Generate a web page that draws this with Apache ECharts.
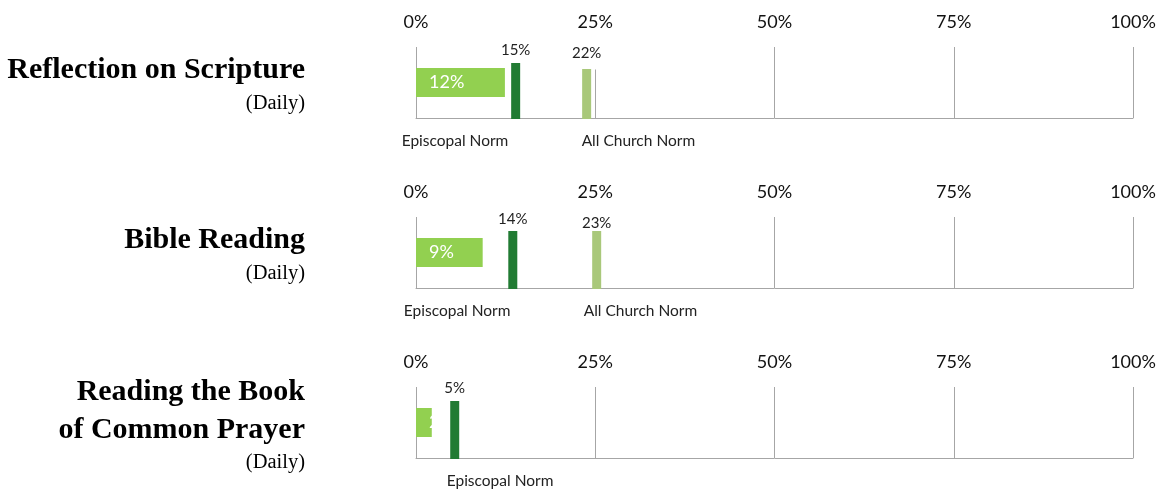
<!DOCTYPE html>
<html>
<head>
<meta charset="utf-8">
<script src="https://cdn.jsdelivr.net/npm/echarts@6/dist/echarts.min.js"></script>
<style>
  html, body { margin: 0; padding: 0; background: #fff; }
  #chart { width: 1164px; height: 491px; }
</style>
</head>
<body>
<div id="chart"></div>
<script>
// data
const practices = ['Reflection on Scripture', 'Bible Reading', 'Reading the Book\nof Common Prayer']
const frequency = ['(Daily)', '(Daily)', '(Daily)']
const xTicks = [0, 25, 50, 75, 100]
const myValue = [12.4, 9.3, 2.2]            // light green bar length (%)
const myLabel = ['12%', '9%', '2%']
const episcopalAt = [13.9, 13.5, 5.4]       // where the dark marker sits
const episcopalLabel = ['15%', '14%', '5%']
const allChurchAt = [23.8, 25.2, null]      // where the pale marker sits
const allChurchLabel = ['22%', '23%', null]

// layout / look (not data)
const gridTop = [47, 217, 387]
const gridH = 71
const titleY = [[70], [240], [392, 430]]
const dailyY = [104, 274, 463]
const epStyle = [{ h: 55, dy: 13, dx: -114 }, { h: 57, dy: 12, dx: -109 }, { h: 57, dy: 13, dx: -8 }]
const chStyle = [{ h: 49, dy: 16, dx: -5 }, { h: 57, dy: 8, dx: -13 }, null]
const gray = '#a6a6a6'
const dark = '#217b33'
const pale = '#a9c87a'
const green = '#92d050'

let chart = echarts.init(document.getElementById('chart'))

let grid = [], xAxis = [], yAxis = [], series = [], graphic = []

for (let i = 0; i < practices.length; i++) {
  grid.push({ left: 416, right: 31, top: gridTop[i], height: gridH })
  // top axis: labels + vertical lines
  xAxis.push({
    type: 'value', gridIndex: i, position: 'top', min: 0, max: 100, interval: 25,
    axisLine: { show: false }, axisTick: { show: false },
    axisLabel: { formatter: '{value}%', color: '#111', fontFamily: 'Lato', fontSize: 18, margin: 16,
      customValues: xTicks },
    splitLine: { show: true, lineStyle: { color: gray, width: 1 } }
  })
  // bottom axis: only the base line
  xAxis.push({
    type: 'value', gridIndex: i, position: 'bottom', min: 0, max: 100,
    axisLine: { show: true, lineStyle: { color: gray, width: 1 } },
    axisTick: { show: false }, axisLabel: { show: false }, splitLine: { show: false }
  })
  yAxis.push({ type: 'category', gridIndex: i, data: ['a'], show: false })

  series.push({
    type: 'bar', xAxisIndex: i * 2, yAxisIndex: i, barWidth: 29, z: 2,
    itemStyle: { color: green },
    label: {
      show: true, position: 'insideLeft', distance: 13, color: '#fff',
      fontFamily: 'Lato', fontSize: 18, formatter: () => myLabel[i]
    },
    data: [myValue[i]]
  })

  // norm markers
  let marks = [{ value: [episcopalAt[i], 0], text: episcopalLabel[i], name: 'Episcopal Norm', color: dark, st: epStyle[i] }]
  if (allChurchAt[i] != null) {
    marks.push({ value: [allChurchAt[i], 0], text: allChurchLabel[i], name: 'All Church Norm', color: pale, st: chStyle[i] })
  }
  series.push({
    type: 'custom', xAxisIndex: i * 2, yAxisIndex: i, z: 5,
    data: marks.map(m => m.value),
    renderItem: function (params, api) {
      let m = marks[params.dataIndex]
      let x = api.coord([api.value(0), 0])[0]
      let cs = params.coordSys
      let base = cs.y + cs.height
      let top = base - m.st.h
      return {
        type: 'group',
        children: [
          { type: 'text', x: x, y: top - m.st.dy,
            style: { text: m.text, align: 'center', verticalAlign: 'middle', fill: '#222',
              font: '15px Lato', backgroundColor: '#fff', padding: [9, 3] } },
          { type: 'rect', shape: { x: x - 4.5, y: top, width: 9, height: m.st.h + 1 },
            style: { fill: m.color } },
          { type: 'text', x: x + m.st.dx, y: base + 22.5,
            style: { text: m.name, align: 'left', verticalAlign: 'middle', fill: '#222', font: '15.5px Lato' } }
        ]
      }
    }
  })

  // titles on the left
  let lines = practices[i].split('\n')
  lines.forEach((t, k) => {
    graphic.push({ type: 'text', x: 305, y: titleY[i][k],
      style: { text: t, align: 'right', verticalAlign: 'middle', fill: '#000',
        font: 'bold 30px "Liberation Serif"' } })
  })
  graphic.push({ type: 'text', x: 305, y: dailyY[i],
    style: { text: frequency[i], align: 'right', verticalAlign: 'middle', fill: '#000',
      font: '20.5px "Liberation Serif"' } })
}

let option = {
  animation: false,
  grid: grid,
  xAxis: xAxis,
  yAxis: yAxis,
  series: series,
  graphic: graphic
}
chart.setOption(option)
</script>
</body>
</html>
